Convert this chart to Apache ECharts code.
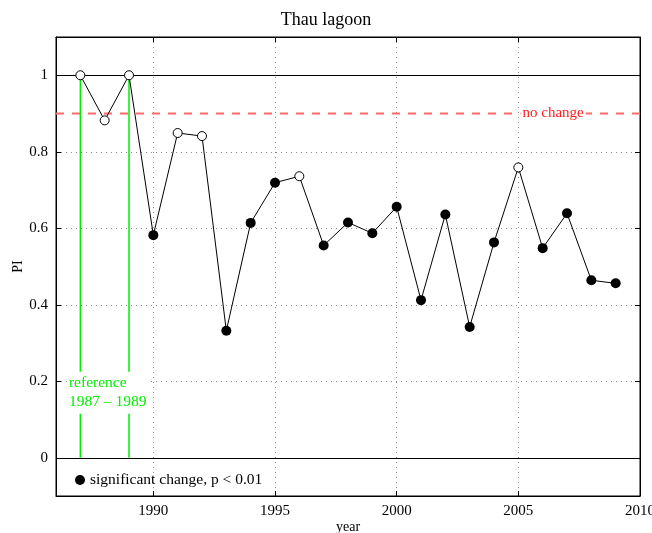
<!DOCTYPE html>
<html>
<head>
<meta charset="utf-8">
<script src="https://cdn.jsdelivr.net/npm/echarts@6/dist/echarts.min.js"></script>
<style>html,body{margin:0;padding:0;background:#fff}#c{width:652px;height:533px}</style>
</head>
<body>
<div id="c"></div>
<script>
const years = [1987,1988,1989,1990,1991,1992,1993,1994,1995,1996,1997,1998,1999,2000,2001,2002,2003,2004,2005,2006,2007,2008,2009];
const piValues = [1.0,0.882,1.0,0.582,0.849,0.841,0.332,0.614,0.719,0.736,0.555,0.615,0.587,0.656,0.412,0.636,0.342,0.563,0.759,0.548,0.639,0.464,0.456];
const significant = [false,false,false,true,false,false,true,true,true,false,true,true,true,true,true,true,true,true,false,true,true,true,true];
const xTicks = [1990,1995,2000,2005,2010];
const yTicks = [0,0.2,0.4,0.6,0.8,1];
const referenceYears = [1987,1989];
const noChangeLevel = 0.9;
const xRange = [1986,2010];

const FONT = 'Liberation Serif';
const pts = years.map((y,i)=>[y,piValues[i]]);
const openPts = pts.filter((p,i)=>!significant[i]);
const sigPts = pts.filter((p,i)=>significant[i]);

const chart = echarts.init(document.getElementById('c'));
const xBase = {
  type:'value', min:xRange[0], max:xRange[1],
  axisLine:{show:true,onZero:false,lineStyle:{color:'#000',width:1}},
  axisTick:{show:true,inside:true,length:5,customValues:xTicks,lineStyle:{color:'#000'}},
  splitLine:{show:false}
};
const yBase = {
  type:'value', min:-0.1, max:1.1,
  axisLine:{show:true,onZero:false,lineStyle:{color:'#000',width:1}},
  axisTick:{show:true,inside:true,length:5,customValues:yTicks,lineStyle:{color:'#000'}},
  splitLine:{show:false}
};
const refSeries = referenceYears.map((y,k)=>({
  type:'line',name:'ref'+k,data:[[y,0],[y,1]],symbol:'none',silent:true,z:1,
  lineStyle:{color:'#00ee00',type:'solid',width:1.5},itemStyle:{color:'#00ee00'}
}));
chart.setOption({
  animation:false,
  backgroundColor:'#fff',
  textStyle:{fontFamily:FONT},
  title:{text:'Thau lagoon',left:'center',top:6,textStyle:{fontFamily:FONT,fontSize:18,fontWeight:'normal',color:'#000'}},
  grid:{left:56,right:12,top:37,bottom:37,show:true,borderColor:'#000',borderWidth:1,outerBoundsMode:'none',containLabel:false},
  legend:{left:70,top:467,itemWidth:10,itemHeight:10,itemGap:4,
    textStyle:{fontFamily:FONT,fontSize:15.5,color:'#000'},
    data:[{name:'significant change, p < 0.01',icon:'circle'}]},
  xAxis:[
    Object.assign({},xBase,{position:'bottom',name:'year',nameLocation:'middle',nameGap:24,nameMoveOverlap:false,
      nameTextStyle:{fontFamily:FONT,fontSize:14,color:'#000'},
      axisLabel:{show:true,customValues:xTicks,margin:8,fontFamily:FONT,fontSize:15,color:'#000',formatter:v=>String(v)},
      splitLine:{show:true,lineStyle:{color:'#888',type:[1,4],width:1}}}),
    Object.assign({},xBase,{position:'top',axisLabel:{show:false}})
  ],
  yAxis:[
    Object.assign({},yBase,{position:'left',name:'PI',nameLocation:'middle',nameGap:31,nameMoveOverlap:false,
      nameTextStyle:{fontFamily:FONT,fontSize:14,color:'#000'},
      axisLabel:{show:true,customValues:yTicks,margin:8,fontFamily:FONT,fontSize:15,color:'#000',
        formatter:v=>String(Math.round(v*10)/10)},
      splitLine:{show:true,lineStyle:{color:'#888',type:[1,4],width:1}}}),
    Object.assign({},yBase,{position:'right',axisLabel:{show:false}})
  ],
  series:[
    ...refSeries,
    {type:'line',name:'bounds',data:[],silent:true,z:2,
      markLine:{silent:true,symbol:'none',label:{show:false},
        lineStyle:{color:'#000',type:'solid',width:1.2},
        data:[{yAxis:0},{yAxis:1}]}},
    {type:'line',name:'nochange',data:xRange.map(x=>[x,noChangeLevel]),symbol:'none',silent:true,z:2,
      lineStyle:{color:'#ff6a6a',type:[8,8],width:2},itemStyle:{color:'#ff6a6a'}},
    {type:'line',name:'labels',data:[],silent:true,z:5,
      markPoint:{silent:true,symbol:'circle',symbolSize:1,itemStyle:{color:'rgba(0,0,0,0)'},
        data:[
          {coord:[2006.43,noChangeLevel],label:{show:true,position:'inside',formatter:'no change',
            color:'#ff2020',fontFamily:FONT,fontSize:15,backgroundColor:'#fff',padding:[0,2]}},
          {coord:[1986.45,0.170],label:{show:true,position:'inside',formatter:'reference\n1987 – 1989',
            color:'#00ee00',fontFamily:FONT,fontSize:15.5,lineHeight:19,backgroundColor:'#fff',padding:[2,2],align:'left'}}
        ]}},
    {type:'line',name:'PI',data:pts,symbol:'none',z:6,
      lineStyle:{color:'#000',width:1},itemStyle:{color:'#000'}},
    {type:'scatter',name:'open',data:openPts,symbol:'circle',symbolSize:9,z:7,
      itemStyle:{color:'#fff',borderColor:'#000',borderWidth:1,opacity:1}},
    {type:'scatter',name:'significant change, p < 0.01',data:sigPts,symbol:'circle',symbolSize:10,z:7,
      itemStyle:{color:'#000',opacity:1}}
  ]
});
</script>
</body>
</html>
